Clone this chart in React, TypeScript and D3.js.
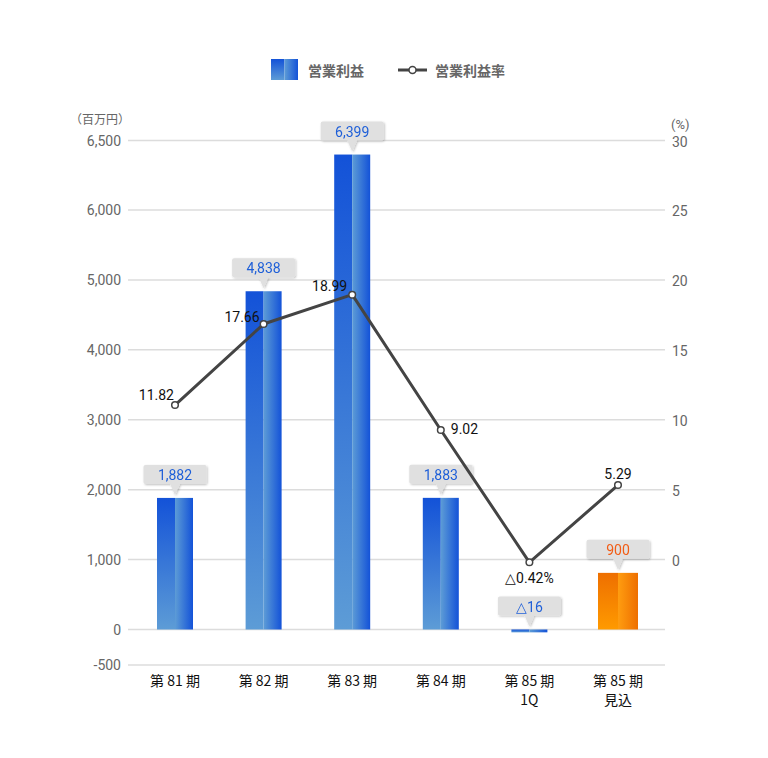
import React from "react";
import * as d3 from "d3";

const categories = ["第 81 期", "第 82 期", "第 83 期", "第 84 期", "第 85 期\n1Q", "第 85 期\n見込"];
const profitValues = [1882, 4838, 6399, 1883, -40, 810];
const profitLabels = ["1,882", "4,838", "6,399", "1,883", "△16", "900"];
const marginValues = [11.06, 16.86, 18.96, 9.27, -0.2, 5.33];
const marginLabels = ["11.82", "17.66", "18.99", "9.02", "△0.42%", "5.29"];
const leftTicks = [-500, 0, 1000, 2000, 3000, 4000, 5000, 6000, 6500];
const rightTicks = [0, 5, 10, 15, 20, 25, 30];
const forecastIndex = 5;

const W = 768;
const H = 758;
const X0 = 128;
const X1 = 665;

const yLeft = d3.scaleLinear().domain([-500, 0, 6000, 6500]).range([665, 629.5, 210, 140.5]);
const yRight = d3.scaleLinear().domain([0, 30]).range([559.5, 140.5]);
const xPos = d3.scalePoint<string>().domain(categories).range([175, 618]);

const fmt = (v: number) => d3.format(",")(v).replace("\u2212", "-");
const CJK = "'Noto Sans CJK JP', 'Noto Sans', sans-serif";
const NUM = "Roboto, 'Noto Sans', sans-serif";

export default function App() {
  const line = d3
    .line<number>()
    .x((_, i) => xPos(categories[i]) as number)
    .y((d) => yRight(d));

  return (
    <svg width={W} height={H} style={{ position: "absolute", left: 0, top: 0, background: "#fff" }}>
      <defs>
        <linearGradient id="bV" x1="0" y1="0" x2="0" y2="1">
          <stop offset="0" stopColor="#1352d8" />
          <stop offset="1" stopColor="#5d9cd6" />
        </linearGradient>
        <linearGradient id="bH" x1="0" y1="0" x2="1" y2="0">
          <stop offset="0" stopColor="#5d9cd6" />
          <stop offset="1" stopColor="#1352d8" />
        </linearGradient>
        <linearGradient id="oV" x1="0" y1="0" x2="0" y2="1">
          <stop offset="0" stopColor="#ee6f00" />
          <stop offset="1" stopColor="#ff9a00" />
        </linearGradient>
        <linearGradient id="oH" x1="0" y1="0" x2="1" y2="0">
          <stop offset="0" stopColor="#ff9d10" />
          <stop offset="1" stopColor="#ee6f00" />
        </linearGradient>
        <filter id="sh" x="-20%" y="-30%" width="140%" height="170%">
          <feDropShadow dx="1" dy="1" stdDeviation="1" floodColor="#000" floodOpacity="0.25" />
        </filter>
      </defs>

      {/* Legend */}
      <g>
        <rect x={271} y={59} width={13.5} height={21} fill="url(#bV)" />
        <rect x={284.5} y={59} width={13.5} height={21} fill="url(#bH)" />
        <text x={308} y={70} dominantBaseline="central" fontFamily={CJK} fontSize={14} fontWeight={700} fill="#666">
          営業利益
        </text>
        <line x1={398} x2={427} y1={70} y2={70} stroke="#444" strokeWidth={3} />
        <circle cx={412.5} cy={70} r={3.5} fill="#fff" stroke="#444" strokeWidth={1.5} />
        <text x={435} y={70} dominantBaseline="central" fontFamily={CJK} fontSize={14} fontWeight={700} fill="#666">
          営業利益率
        </text>
      </g>

      {/* Units */}
      <text x={100} y={118} textAnchor="middle" dominantBaseline="central" fontFamily={CJK} fontSize={12} fill="#666">
        （百万円）
      </text>
      <text x={671} y={124} dominantBaseline="central" fontFamily={NUM} fontSize={13} fill="#666">
        (%)
      </text>

      {/* Gridlines & left ticks */}
      {leftTicks.map((t) => (
        <g key={"l" + t}>
          <line x1={X0} x2={X1} y1={yLeft(t)} y2={yLeft(t)} stroke="#dcdcdc" strokeWidth={1.5} />
          <text x={121} y={yLeft(t)} textAnchor="end" dominantBaseline="central" fontFamily={NUM} fontSize={14} fill="#666">
            {fmt(t)}
          </text>
        </g>
      ))}
      {rightTicks.map((t) => (
        <text key={"r" + t} x={672} y={yRight(t) + 1} dominantBaseline="central" fontFamily={NUM} fontSize={14} fill="#666">
          {t}
        </text>
      ))}

      {/* Bars */}
      {profitValues.map((v, i) => {
        const cx = xPos(categories[i]) as number;
        const bw = i === forecastIndex ? 40 : 36;
        const top = Math.min(yLeft(v), yLeft(0));
        const bot = Math.max(yLeft(v), yLeft(0));
        const orange = i === forecastIndex;
        return (
          <g key={"b" + i}>
            <rect x={cx - bw / 2} y={top} width={bw / 2} height={bot - top} fill={orange ? "url(#oV)" : "url(#bV)"} />
            <rect x={cx} y={top} width={bw / 2} height={bot - top} fill={orange ? "url(#oH)" : "url(#bH)"} />
          </g>
        );
      })}

      {/* Bar labels */}
      {profitLabels.map((lab, i) => {
        const cx = xPos(categories[i]) as number;
        const v = profitValues[i];
        const top = Math.min(yLeft(v), yLeft(0));
        const bb = top - 14;
        const bh = 19;
        const bw = 63;
        const orange = i === forecastIndex;
        return (
          <g key={"bl" + i} filter="url(#sh)">
            <rect x={cx - bw / 2} y={bb - bh} width={bw} height={bh} rx={2} fill="#e0e0e0" />
            <polygon points={`${cx - 5},${bb - 0.5} ${cx + 5},${bb - 0.5} ${cx},${bb + 11}`} fill="#e0e0e0" />
            <text
              x={cx}
              y={bb - bh / 2 + 0.5}
              textAnchor="middle"
              dominantBaseline="central"
              fontFamily={NUM}
              fontSize={14}
              fill={orange ? "#f25c14" : "#1f5fd8"}
            >
              {lab}
            </text>
          </g>
        );
      })}

      {/* Line */}
      <path d={line(marginValues) as string} fill="none" stroke="#444" strokeWidth={3} strokeLinejoin="round" />
      {marginValues.map((v, i) => (
        <circle key={"c" + i} cx={xPos(categories[i]) as number} cy={yRight(v)} r={3.3} fill="#fff" stroke="#444" strokeWidth={1.5} />
      ))}

      {/* Line labels */}
      {marginLabels.map((lab, i) => {
        const px = xPos(categories[i]) as number;
        const py = yRight(marginValues[i]);
        const pos: [number, number, string][] = [
          [px - 1, py - 5, "end"],
          [px - 4, py - 2, "end"],
          [px - 5, py - 4, "end"],
          [px + 10, py + 4, "start"],
          [px, py + 21, "middle"],
          [px, py - 6, "middle"],
        ];
        const [tx, ty, anchor] = pos[i];
        return (
          <text key={"ll" + i} x={tx} y={ty} textAnchor={anchor as any} fontFamily={NUM} fontSize={14} fill="#111">
            {lab}
          </text>
        );
      })}

      {/* Category labels */}
      {categories.map((c) => {
        const lines = c.split("\n");
        return (
          <text key={c} x={xPos(c) as number} y={686} textAnchor="middle" fontFamily={CJK} fontSize={14} fill="#111">
            {lines.map((ln, j) => (
              <tspan key={j} x={xPos(c) as number} dy={j === 0 ? 0 : 19}>
                {ln}
              </tspan>
            ))}
          </text>
        );
      })}
    </svg>
  );
}
